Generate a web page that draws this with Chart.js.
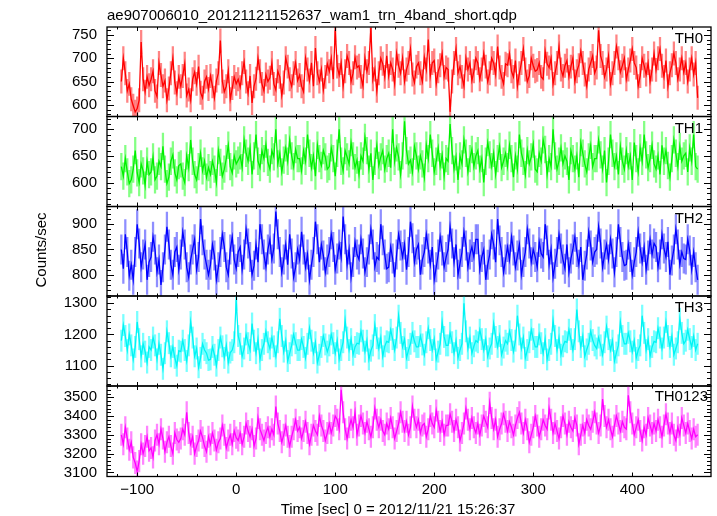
<!DOCTYPE html>
<html><head><meta charset="utf-8">
<script src="https://cdn.jsdelivr.net/npm/chart.js@4/dist/chart.umd.min.js"></script>
<style>
html,body{margin:0;padding:0;background:#fff;}
#wrap{position:relative;width:717px;height:516px;overflow:hidden;font-family:"Liberation Sans",Arial,sans-serif;background:#fff;}
canvas{position:absolute;left:0;top:0;}
.txt{position:absolute;white-space:nowrap;font-size:15px;color:#000;line-height:15px;}
</style></head><body>
<div id="wrap">
<canvas id="c0" width="717" height="516"></canvas>
<canvas id="c1" width="717" height="516"></canvas>
<canvas id="c2" width="717" height="516"></canvas>
<canvas id="c3" width="717" height="516"></canvas>
<canvas id="c4" width="717" height="516"></canvas>
<div class="txt" style="left:107px;top:7px;">ae907006010_20121121152637_wam1_trn_4band_short.qdp</div>
<div class="txt" style="left:0px;top:243px;width:80px;height:14px;text-align:center;transform:rotate(-90deg);">Counts/sec</div>
<div class="txt" style="left:248px;top:501px;width:300px;text-align:center;">Time [sec] 0 = 2012/11/21 15:26:37</div>
<div class="txt" style="right:14px;top:30px;">TH0</div>
<div class="txt" style="right:14px;top:120px;">TH1</div>
<div class="txt" style="right:14px;top:210px;">TH2</div>
<div class="txt" style="right:14px;top:299px;">TH3</div>
<div class="txt" style="right:9px;top:388px;">TH0123</div>
</div>
<script>
// ---- data (2-s bins starting at t = -116 s) ----
const binStart = -116;
const binSize = 2;

const TH0 = [
650,700,668,630,645,612,598,585,592,610,735,655,628,660,642,
655,672,630,618,690,664,640,652,610,635,668,700,648,625,660,
640,662,688,620,633,610,655,670,645,682,626,615,650,660,634,
662,640,615,652,668,738,650,628,640,672,612,636,660,645,655,
638,668,692,650,625,662,604,640,656,700,672,645,630,665,650,
658,690,645,632,672,660,620,648,700,682,655,640,668,690,652,
664,640,628,700,676,652,690,640,722,668,650,676,632,660,688,
672,700,655,760,682,664,690,640,672,705,690,650,668,702,680,
684,660,640,700,672,690,765,655,676,630,668,700,688,660,705,
662,690,676,645,710,684,668,700,650,676,690,720,665,648,682,
690,668,650,702,676,740,662,690,695,645,672,685,710,660,680,
676,585,650,690,720,668,682,660,640,700,676,690,652,672,700,
690,655,676,710,682,650,668,700,690,665,725,680,660,645,688,
685,710,672,660,695,640,668,690,720,676,650,662,700,684,672,
675,690,660,655,715,688,680,700,645,668,690,725,676,662,684,
695,660,682,700,650,672,685,715,690,665,640,676,690,705,668,
680,760,705,690,660,676,705,645,668,690,725,700,670,684,700,
655,676,695,720,690,680,640,662,700,684,665,690,650,676,710,
675,700,720,684,660,695,640,668,685,710,690,655,676,700,670,
690,650,676,700,665,690,615];

const TH1 = [
630,612,645,620,598,605,625,660,618,600,635,622,595,640,615,
620,648,605,612,640,630,668,625,598,610,640,652,618,605,632,
635,612,600,650,628,680,640,615,605,630,655,622,640,610,628,
615,640,625,600,660,638,612,625,645,670,630,618,650,635,642,
650,628,680,655,640,665,615,650,690,640,628,660,645,672,638,
625,660,648,700,635,655,620,642,665,640,680,650,630,662,645,
645,622,660,640,690,655,628,650,612,670,645,632,660,648,625,
630,665,645,612,655,700,640,622,660,648,635,675,650,628,642,
615,650,640,685,660,625,655,605,640,670,632,648,660,625,645,
655,628,700,640,665,648,615,650,715,660,635,642,620,668,650,
625,650,635,610,670,645,690,655,620,640,665,630,652,612,645,
640,710,660,625,648,605,650,635,680,655,620,645,662,630,650,
660,625,645,600,640,675,652,630,655,615,645,668,628,640,655,
630,670,645,610,650,625,690,655,640,615,660,635,648,672,625,
620,655,640,680,662,615,645,630,700,650,625,640,665,635,650,
640,605,660,645,625,650,610,675,655,635,620,648,670,630,645,
645,680,652,625,660,600,640,690,655,630,650,615,668,640,625,
660,630,650,605,675,645,620,665,640,690,652,628,645,670,635,
625,650,615,670,640,660,632,610,645,680,655,630,668,640,650,
655,620,665,640,690,630,625];

const TH2 = [
850,812,880,845,798,820,790,845,900,862,815,840,860,790,825,
835,875,850,805,830,780,815,850,895,860,820,800,845,855,810,
840,885,860,815,795,830,850,870,810,835,910,868,840,820,800,
820,860,838,790,815,845,880,855,815,800,850,875,830,812,845,
855,810,840,890,862,835,800,818,860,825,900,870,840,815,850,
870,830,852,925,880,845,805,830,860,820,880,842,795,815,850,
830,885,850,815,840,790,820,845,905,870,825,860,838,805,830,
845,880,855,810,832,860,835,915,870,820,850,795,825,865,840,
830,870,842,805,825,850,890,860,815,835,830,900,868,840,812,
815,855,832,795,840,880,858,835,860,810,845,905,872,825,850,
860,800,830,845,880,852,820,855,790,815,840,875,848,815,835,
850,895,862,825,860,800,822,845,885,858,815,840,855,835,870,
870,810,835,850,790,820,840,880,860,825,910,868,845,805,830,
855,830,875,848,815,838,860,800,825,845,890,862,825,850,835,
815,865,842,835,900,868,820,850,795,822,845,880,852,830,812,
860,805,832,850,875,845,820,855,790,818,840,885,858,825,845,
850,895,862,815,840,860,830,870,842,805,845,900,865,835,818,
820,860,835,800,825,845,885,852,825,855,810,838,870,840,862,
855,815,840,880,852,835,865,800,828,850,890,860,820,845,832,
830,870,848,810,845,815,790];

const TH3 = [
1180,1230,1195,1150,1200,1165,1120,1160,1240,1185,1130,1170,1145,1110,1160,
1150,1190,1165,1120,1170,1135,1090,1140,1210,1172,1130,1160,1125,1100,1148,
1145,1180,1150,1115,1165,1240,1190,1130,1155,1095,1125,1170,1150,1140,1118,
1120,1160,1135,1100,1150,1190,1162,1125,1165,1110,1142,1150,1175,1310,1195,
1170,1130,1155,1200,1172,1150,1235,1180,1140,1185,1120,1150,1170,1210,1175,
1155,1190,1162,1130,1175,1250,1195,1145,1180,1115,1140,1165,1200,1172,1150,
1150,1185,1160,1125,1170,1220,1180,1140,1175,1110,1135,1160,1195,1168,1145,
1165,1200,1172,1140,1180,1120,1150,1175,1245,1190,1150,1185,1135,1160,1172,
1170,1210,1180,1145,1180,1120,1148,1165,1230,1188,1155,1190,1130,1162,1178,
1175,1215,1185,1150,1190,1260,1205,1160,1185,1125,1150,1170,1205,1178,1160,
1160,1195,1168,1135,1175,1220,1182,1150,1185,1120,1145,1170,1240,1192,1165,
1165,1205,1175,1140,1180,1125,1150,1170,1300,1210,1155,1190,1140,1162,1180,
1175,1215,1185,1150,1185,1130,1155,1170,1235,1192,1160,1195,1135,1158,1180,
1170,1210,1182,1145,1180,1260,1200,1155,1190,1125,1150,1175,1215,1185,1160,
1160,1200,1172,1140,1185,1120,1150,1170,1245,1195,1150,1190,1135,1162,1178,
1175,1215,1185,1150,1185,1280,1210,1160,1195,1130,1152,1170,1210,1182,1165,
1155,1190,1165,1135,1175,1225,1185,1150,1180,1115,1142,1165,1240,1195,1170,
1170,1205,1178,1145,1180,1125,1150,1165,1260,1205,1150,1185,1130,1160,1178,
1175,1220,1190,1155,1190,1240,1195,1160,1195,1135,1155,1175,1250,1205,1170,
1180,1215,1185,1160,1195,1150,1170];

const TH0123 = [
3300,3250,3340,3280,3220,3260,3180,3150,3105,3160,3250,3200,3240,3290,3215,
3230,3180,3270,3300,3250,3330,3280,3210,3260,3290,3240,3200,3310,3275,3260,
3280,3330,3300,3420,3310,3250,3290,3200,3240,3270,3320,3285,3240,3210,3290,
3250,3310,3270,3220,3260,3280,3350,3300,3230,3270,3300,3250,3320,3285,3270,
3310,3250,3290,3360,3320,3290,3330,3240,3280,3390,3330,3300,3270,3310,3340,
3290,3330,3300,3450,3360,3320,3260,3300,3350,3290,3240,3290,3330,3380,3320,
3340,3280,3320,3370,3310,3250,3300,3350,3320,3300,3400,3350,3320,3270,3310,
3360,3310,3350,3400,3380,3330,3540,3420,3330,3280,3340,3380,3340,3420,3300,
3350,3400,3360,3310,3370,3330,3290,3340,3440,3380,3340,3380,3320,3300,3360,
3330,3390,3340,3280,3320,3360,3420,3370,3320,3370,3300,3340,3450,3380,3340,
3380,3310,3350,3360,3290,3330,3400,3360,3340,3430,3370,3320,3370,3300,3350,
3350,3410,3370,3320,3380,3340,3270,3310,3360,3440,3380,3330,3390,3340,3310,
3360,3300,3350,3400,3370,3340,3470,3390,3330,3380,3290,3330,3360,3410,3370,
3320,3370,3340,3300,3350,3390,3420,3360,3310,3380,3330,3260,3300,3340,3400,
3350,3290,3330,3380,3350,3330,3440,3380,3310,3360,3320,3280,3340,3400,3360,
3300,3370,3340,3320,3390,3350,3250,3300,3350,3310,3380,3350,3330,3370,3420,
3360,3310,3350,3490,3400,3340,3380,3330,3290,3350,3400,3360,3320,3370,3340,
3330,3510,3420,3360,3300,3340,3380,3320,3270,3340,3300,3390,3350,3310,3360,
3320,3380,3340,3290,3350,3410,3360,3310,3360,3300,3270,3340,3300,3390,3350,
3310,3360,3320,3280,3330,3290,3300];

// 1-sigma errors per band (counts/sec)
const errTH0 = 25, errTH1 = 25, errTH2 = 29, errTH3 = 34, errTH0123 = 57;

// axis tick labels
const xTicks = [-100, 0, 100, 200, 300, 400];
const yTicksTH0 = [600, 650, 700, 750];
const yTicksTH1 = [600, 650, 700];
const yTicksTH2 = [800, 850, 900];
const yTicksTH3 = [1100, 1200, 1300];
const yTicksTH0123 = [3100, 3200, 3300, 3400, 3500];

const timeSec = TH0.map((_, i) => binStart + i * binSize);

// ---- layout / style ----
const W = 516;
const X_MIN = -130.5, X_MAX = 479.5;
const panels = [
  {id:'c0', v:TH0, e:errTH0, ticks:yTicksTH0, min:575, max:767, minor:10, top:27, bottom:116.5, col:'#ff0000', light:'rgba(255,50,50,0.6)'},
  {id:'c1', v:TH1, e:errTH1, ticks:yTicksTH1, min:555, max:724, minor:10, top:116.5, bottom:206.5, col:'#00f000', light:'rgba(50,255,50,0.6)'},
  {id:'c2', v:TH2, e:errTH2, ticks:yTicksTH2, min:758, max:935, minor:10, top:206.5, bottom:296, col:'#0000ff', light:'rgba(50,50,255,0.55)'},
  {id:'c3', v:TH3, e:errTH3, ticks:yTicksTH3, min:1035, max:1323, minor:20, top:296, bottom:386, col:'#00f4f4', light:'rgba(30,255,255,0.6)'},
  {id:'c4', v:TH0123, e:errTH0123, ticks:yTicksTH0123, min:3078, max:3560, minor:20, top:386, bottom:476.5, col:'#ff00ff', light:'rgba(255,50,255,0.6)'}
];
const FONT = {family:'"Liberation Sans", Arial, sans-serif', size:15};

function framePlugin(p){
  return {id:'frame', afterDraw(chart){
    const {ctx, chartArea:a, scales:{x, y}} = chart;
    ctx.save();
    ctx.strokeStyle = '#000';
    ctx.lineWidth = 1;
    ctx.beginPath();
    for (let v = Math.ceil(p.min / p.minor) * p.minor; v <= p.max; v += p.minor) {
      const py = Math.round(y.getPixelForValue(v)) + 0.5;
      const L = p.ticks.includes(v) ? 7 : 4;
      ctx.moveTo(a.left, py); ctx.lineTo(a.left + L, py);
      ctx.moveTo(a.right, py); ctx.lineTo(a.right - L, py);
    }
    for (let v = -120; v <= X_MAX; v += 20) {
      const px = Math.round(x.getPixelForValue(v)) + 0.5;
      const L = xTicks.includes(v) ? 4 : 2.5;
      ctx.moveTo(px, a.top); ctx.lineTo(px, a.top + L);
      ctx.moveTo(px, a.bottom); ctx.lineTo(px, a.bottom - L);
    }
    ctx.stroke();
    ctx.lineWidth = 1.3;
    ctx.strokeRect(a.left, a.top, a.right - a.left, a.bottom - a.top);
    ctx.restore();
  }};
}

panels.forEach((p, k) => {
  const last = k === panels.length - 1;
  new Chart(document.getElementById(p.id), {
    type: 'line',
    data: {datasets: [
      {type:'line', data: timeSec.map((t, i) => ({x:t, y:p.v[i]})), borderColor:p.col, borderWidth:1.3,
       pointRadius:0, tension:0, order:1},
      {type:'bar', data: timeSec.map((t, i) => ({x:t, y:[p.v[i] - p.e, p.v[i] + p.e]})), backgroundColor:p.light,
       borderWidth:0, barThickness:1.6, order:2}
    ]},
    options: {
      responsive:false, animation:false, devicePixelRatio:1,
      layout: {padding: {top:p.top, bottom: last ? 0 : W - p.bottom, left:0, right:6}},
      plugins: {legend:{display:false}, tooltip:{enabled:false}},
      scales: {
        x: {type:'linear', min:X_MIN, max:X_MAX, display:last, offset:false,
            grid:{display:false, drawTicks:false}, border:{display:false},
            ticks:{font:FONT, color:'#000', padding:4, maxRotation:0, autoSkip:false,
                   callback:(v) => (v < 0 ? '\u2212' + Math.abs(v) : String(v))},
            afterBuildTicks:(s) => { s.ticks = xTicks.map(v => ({value:v})); },
            afterFit:(s) => { s.height = last ? W - p.bottom : 0; }},
        y: {type:'linear', min:p.min, max:p.max,
            grid:{display:false, drawTicks:false}, border:{display:false},
            ticks:{font:FONT, color:'#000', padding:10, autoSkip:false, callback:(v) => String(v)},
            afterBuildTicks:(s) => { s.ticks = p.ticks.map(v => ({value:v})); },
            afterFit:(s) => { s.width = 107; }}
      }
    },
    plugins: [framePlugin(p)]
  });
});
</script>
</body></html>
